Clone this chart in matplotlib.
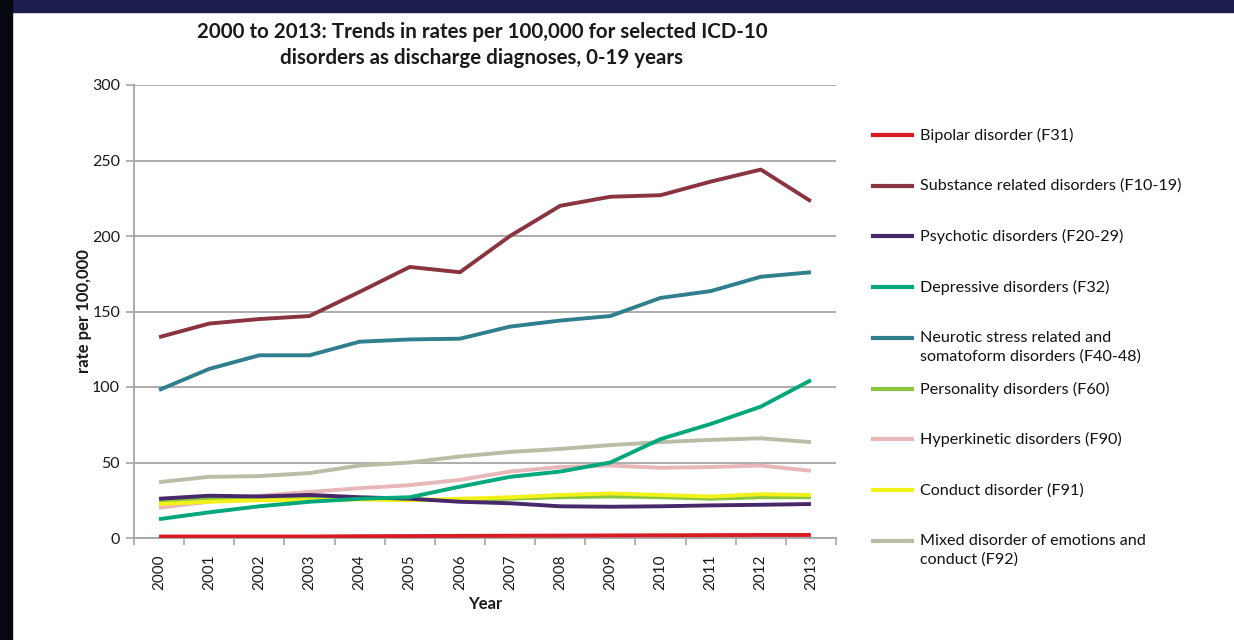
import numpy as np
import matplotlib
matplotlib.use("Agg")
from matplotlib import pyplot as plt
from matplotlib.lines import Line2D
from matplotlib.patches import Rectangle

plt.rcParams["font.family"] = ["Lato", "DejaVu Sans"]

years = [str(y) for y in range(2000, 2014)]

bipolar = [1.0, 1.0, 1.0, 1.0, 1.2, 1.3, 1.4, 1.5, 1.6, 1.7, 1.8, 1.9, 2.0, 2.0]
substance = [133, 142, 145, 147, 163, 179.5, 176, 200, 220, 226, 227, 236, 244, 223]
psychotic = [26, 28, 27.5, 28.5, 27, 26, 24, 23, 21, 20.7, 21, 21.6, 22, 22.5]
depressive = [12.5, 17, 21, 24, 26, 27, 34, 40.5, 44, 50, 65.5, 75.5, 87, 104.5]
neurotic = [98, 112, 121, 121, 130, 131.5, 132, 140, 144, 147, 159, 163.5, 173, 176]
personality = [24, 26, 27, 27, 26, 25.5, 25, 26, 27, 27.5, 27, 26, 27, 27]
hyperkinetic = [20, 24, 28, 30.5, 33, 35, 38.5, 44, 47, 48, 46.5, 47, 48, 44.5]
conduct = [22.5, 24, 25, 25, 25.5, 25, 26, 27, 28.5, 29.5, 28.5, 27.5, 29, 28.5]
mixed = [37, 40.5, 41, 43, 48, 50, 54, 57, 59, 61.5, 63.5, 65, 66, 63.5]

labels = [
    "Bipolar disorder (F31)",
    "Substance related disorders (F10-19)",
    "Psychotic disorders (F20-29)",
    "Depressive disorders (F32)",
    "Neurotic stress related and\nsomatoform disorders (F40-48)",
    "Personality disorders (F60)",
    "Hyperkinetic disorders (F90)",
    "Conduct disorder (F91)",
    "Mixed disorder of emotions and\nconduct (F92)",
]
series = [bipolar, substance, psychotic, depressive, neurotic,
          personality, hyperkinetic, conduct, mixed]
colors = ["#d81c24", "#8a3440", "#47286a", "#00a87c", "#2f7f8e",
          "#8cc63f", "#e8b7b9", "#f2f21a", "#b8bea6"]
# drawing order: back to front
draw_order = [8, 6, 5, 7, 2, 3, 4, 1, 0]

W, H = 1234, 640
fig = plt.figure(figsize=(W / 100, H / 100), dpi=100, facecolor="white")

# slide frame
fig.patches.append(Rectangle((0, 1 - 12 / H), 1, 12 / H, transform=fig.transFigure,
                             color="#1d1d4e", zorder=0))
fig.patches.append(Rectangle((0, 0), 12 / W, 1, transform=fig.transFigure,
                             color="#07070f", zorder=0))

ax = fig.add_axes([134 / W, 1 - 538 / H, (836 - 134) / W, (538 - 85) / H])
x = np.arange(len(years))

for i in draw_order:
    ax.plot(x, series[i], color=colors[i], lw=2.8, solid_capstyle="butt",
            zorder=3 + draw_order.index(i) * 0.1)

ax.set_xlim(-0.5, len(years) - 0.5)
ax.set_ylim(0, 300)
ax.set_yticks(np.arange(0, 301, 50))
ax.yaxis.grid(True, color="#a6a6a6", lw=1.3)
ax.set_axisbelow(True)

ax.set_xticks(x)
ax.set_xticklabels(years, rotation=90, fontsize=11, color="#1a1a1a")
ax.set_xticks(np.arange(-0.5, len(years), 1.0), minor=True)
ax.tick_params(axis="x", which="major", length=0, pad=12)
ax.tick_params(axis="x", which="minor", length=5, width=1.2, color="#a6a6a6")
ax.tick_params(axis="y", length=6, width=1.2, color="#a6a6a6",
               labelsize=11.5, labelcolor="#1a1a1a", pad=4)

for side in ("top", "right"):
    ax.spines[side].set_visible(False)
for side in ("left", "bottom"):
    ax.spines[side].set_color("#a6a6a6")
    ax.spines[side].set_linewidth(1.3)

ax.set_ylabel("rate per 100,000", fontsize=12, fontweight="bold",
              color="#1a1a1a", labelpad=0)
ax.set_xlabel("Year", fontsize=12, fontweight="bold", color="#1a1a1a", labelpad=4)

fig.text(482 / W, 1 - 45 / H,
         "2000 to 2013: Trends in rates per 100,000 for selected ICD-10\n"
         "disorders as discharge diagnoses, 0-19 years",
         ha="center", va="center", fontsize=14.8, fontweight="bold",
         color="#1a1a1a", linespacing=1.35)

# legend
for i, lab in enumerate(labels):
    yy = 1 - (135 + 50.7 * i) / H
    fig.add_artist(Line2D([873 / W, 912 / W], [yy, yy], transform=fig.transFigure,
                          color=colors[i], lw=3))
    fig.text(920 / W, yy + 7 / H, lab, ha="left", va="top", fontsize=11.6,
             color="#111111", linespacing=1.4)

fig.savefig("out.png", dpi=100, facecolor="white")
